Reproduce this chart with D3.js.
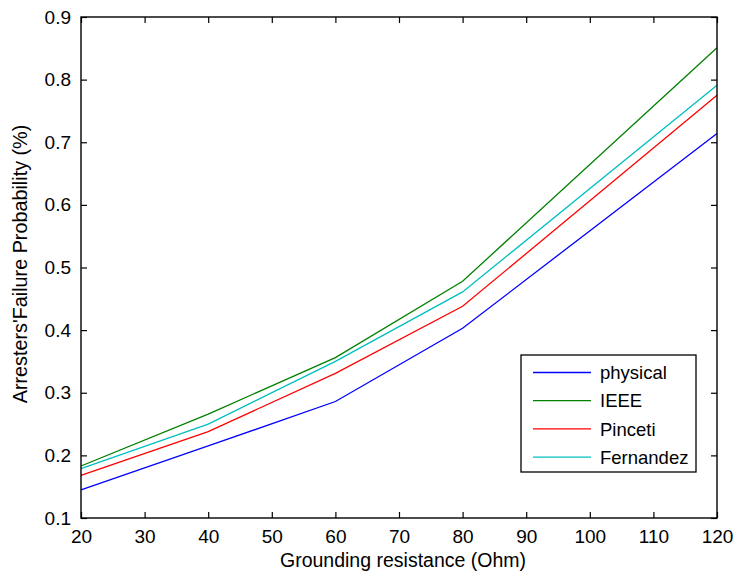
<!DOCTYPE html>
<html>
<head>
<meta charset="utf-8">
<script src="https://cdn.jsdelivr.net/npm/d3@7"></script>
<style>
  body { margin: 0; background: #fff; }
  svg text { font-family: "Liberation Sans", Arial, Helvetica, sans-serif; }
</style>
</head>
<body>
<script>
// grounding resistance (Ohm)
var resistance = [20, 40, 60, 80, 120];
var physical  = [0.145, 0.215, 0.286, 0.403, 0.714];
var ieee      = [0.183, 0.266, 0.356, 0.478, 0.851];
var pinceti   = [0.168, 0.238, 0.331, 0.438, 0.775];
var fernandez = [0.179, 0.250, 0.350, 0.461, 0.791];
var seriesNames = ["physical", "IEEE", "Pinceti", "Fernandez"];
var seriesColors = ["#0000ff", "#008000", "#ff0000", "#00bfbf"];
var xTicks = [20, 30, 40, 50, 60, 70, 80, 90, 100, 110, 120];
var yTicks = [0.1, 0.2, 0.3, 0.4, 0.5, 0.6, 0.7, 0.8, 0.9];

var allSeries = [physical, ieee, pinceti, fernandez];

var W = 736, H = 579;
var mLeft = 81, mRight = 717, mTop = 17, mBottom = 518;

var svg = d3.select("body").append("svg")
  .attr("width", W)
  .attr("height", H);

var x = d3.scaleLinear().domain([20, 120]).range([mLeft, mRight]);
var y = d3.scaleLinear().domain([0.1, 0.9]).range([mBottom, mTop]);

// lines
var line = d3.line()
  .x(function(d, i) { return x(resistance[i]); })
  .y(function(d) { return y(d); });

svg.selectAll("path.series")
  .data(allSeries)
  .enter()
  .append("path")
  .attr("class", "series")
  .attr("d", line)
  .attr("fill", "none")
  .attr("stroke", function(d, i) { return seriesColors[i]; })
  .attr("stroke-width", 1.3);

// axes, ticks inward, mirrored on top/right
var tickLen = 6;
var fmtY = d3.format(".1f");

var gx = svg.append("g").attr("transform", "translate(0," + mBottom + ")")
  .call(d3.axisBottom(x).tickValues(xTicks).tickSize(-tickLen).tickPadding(12));
var gxTop = svg.append("g").attr("transform", "translate(0," + mTop + ")")
  .call(d3.axisTop(x).tickValues(xTicks).tickSize(-tickLen).tickFormat(""));
var gy = svg.append("g").attr("transform", "translate(" + mLeft + ",0)")
  .call(d3.axisLeft(y).tickValues(yTicks).tickSize(-tickLen).tickPadding(10).tickFormat(fmtY));
var gyRight = svg.append("g").attr("transform", "translate(" + mRight + ",0)")
  .call(d3.axisRight(y).tickValues(yTicks).tickSize(-tickLen).tickFormat(""));

[gx, gxTop, gy, gyRight].forEach(function(g) {
  g.select(".domain").remove();
  g.selectAll(".tick line").attr("stroke", "#000").attr("stroke-width", 1.2);
  g.selectAll(".tick text").attr("font-size", 19).attr("fill", "#000")
    .style("font-family", "'Liberation Sans', Arial, sans-serif");
});

// frame
svg.append("rect")
  .attr("x", mLeft).attr("y", mTop)
  .attr("width", mRight - mLeft).attr("height", mBottom - mTop)
  .attr("fill", "none")
  .attr("stroke", "#000")
  .attr("stroke-width", 1.4);

// axis labels
svg.append("text")
  .attr("x", (mLeft + mRight) / 2 + 4)
  .attr("y", 567)
  .attr("text-anchor", "middle")
  .attr("font-size", 19.5)
  .text("Grounding resistance (Ohm)");

svg.append("text")
  .attr("transform", "translate(27,264) rotate(-90)")
  .attr("text-anchor", "middle")
  .attr("font-size", 19.8)
  .text("Arresters'Failure Probability (%)");

// legend
var lg = svg.append("g").attr("transform", "translate(521,355)");
lg.append("rect")
  .attr("width", 175).attr("height", 117)
  .attr("fill", "#fff")
  .attr("stroke", "#000")
  .attr("stroke-width", 1.3);

var items = lg.selectAll("g.item")
  .data(seriesNames)
  .enter()
  .append("g")
  .attr("class", "item")
  .attr("transform", function(d, i) { return "translate(0," + (17.5 + i * 28.2) + ")"; });

items.append("line")
  .attr("x1", 12).attr("x2", 70)
  .attr("stroke", function(d, i) { return seriesColors[i]; })
  .attr("stroke-width", 1.3);

items.append("text")
  .attr("x", 79)
  .attr("dy", "0.36em")
  .attr("font-size", 18.5)
  .text(function(d) { return d; });
</script>
</body>
</html>
